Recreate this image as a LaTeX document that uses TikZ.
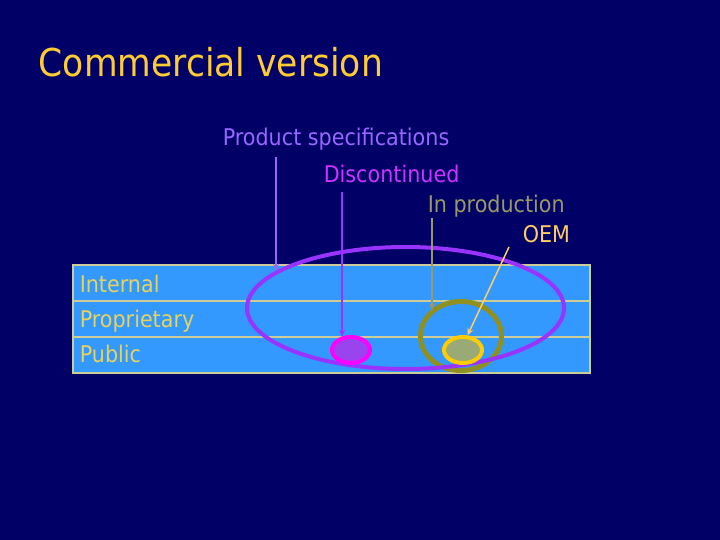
\documentclass[tikz,border=0pt]{standalone}
\usepackage{fontspec}
\setmainfont[FakeStretch=0.9]{DejaVu Sans}
\usetikzlibrary{arrows.meta,shapes.geometric}

\definecolor{slidebg}{HTML}{000066}
\definecolor{titlecol}{HTML}{FFCC33}
\definecolor{rowfill}{HTML}{3399FF}
\definecolor{rowline}{HTML}{CCCC99}
\definecolor{rowtext}{HTML}{E6D25C}
\definecolor{speccol}{HTML}{9966FF}
\definecolor{allcol}{HTML}{9933FF}
\definecolor{disccol}{HTML}{FF00FF}
\definecolor{disctext}{HTML}{CC33FF}
\definecolor{discfill}{HTML}{9944EE}
\definecolor{prodcol}{HTML}{8F8F22}
\definecolor{prodtext}{HTML}{999966}
\definecolor{oemcol}{HTML}{FFCC00}
\definecolor{oemtext}{HTML}{FFCC66}
\definecolor{oemfill}{HTML}{99AA77}

\begin{document}
\begin{tikzpicture}[x=1pt, y=-1pt, >={Stealth[length=7pt,width=6pt]},
                    line width=1.5pt, font=\fontsize{23}{27}\selectfont]
    \tikzstyle{row}=[draw=rowline, fill=rowfill, minimum width=517pt,
                     minimum height=36pt, inner sep=0pt, anchor=north west]
    \tikzstyle{rowlabel}=[text=rowtext, anchor=base west, inner sep=0pt]
    \tikzstyle{tag}=[anchor=base west, inner sep=0pt]
    \tikzstyle{set}=[ellipse, inner sep=0pt, line width=4pt]

    \fill[slidebg] (0,0) rectangle (720,540);

    \node[tag, text=titlecol, font=\fontsize{38.4}{44}\selectfont]
        (title) at (38,77) {Commercial version};

    % the three levels
    \node[row] (R1) at (72,264) {};
    \node[row] (R2) at (72,300) {};
    \node[row] (R3) at (72,336) {};
    \node[rowlabel] (internal)    at ([xshift=7pt,yshift=-10pt]R1.west) {Internal};
    \node[rowlabel] (proprietary) at ([xshift=7pt,yshift=-9pt]R2.west)  {Proprietary};
    \node[rowlabel] (public)      at ([xshift=7pt,yshift=-8pt]R3.west)  {Public};

    % sets
    \node[set, draw=prodcol, line width=5pt, minimum width=81pt,
          minimum height=69pt] (prod) at (461,336) {};
    \node[set, draw=allcol, minimum width=317pt, minimum height=122pt]
        (all) at (405.5,308) {};
    \node[set, draw=disccol, fill=discfill, minimum width=38pt,
          minimum height=26pt] (disc) at (351,350) {};
    \node[set, draw=oemcol, fill=oemfill, minimum width=38pt,
          minimum height=26pt] (oem) at (463,350) {};

    % labels
    \node[tag, text=speccol]  (specs)   at (222,146) {Product specifications};
    \node[tag, text=disctext] (discont) at (323,183) {Discontinued};
    \node[tag, text=prodtext] (inprod)  at (427,213) {In production};
    \node[tag, text=oemtext]  (oemtag)  at (522,243) {OEM};

    \coordinate (specs-foot)   at (276,157);
    \coordinate (discont-foot) at (342,192);
    \coordinate (inprod-foot)  at (432,218);
    \coordinate (oemtag-foot)  at (509,247);

    \draw[->, speccol]  (specs-foot)   -- (specs-foot |- all.164);
    \draw[->, allcol]   (discont-foot) -- (discont-foot |- disc.128);
    \draw[->, prodtext] (inprod-foot)  -- (inprod-foot |- prod.140);
    \draw[->, oemtext]  (oemtag-foot)  -- (oem.73);
\end{tikzpicture}
\end{document}
